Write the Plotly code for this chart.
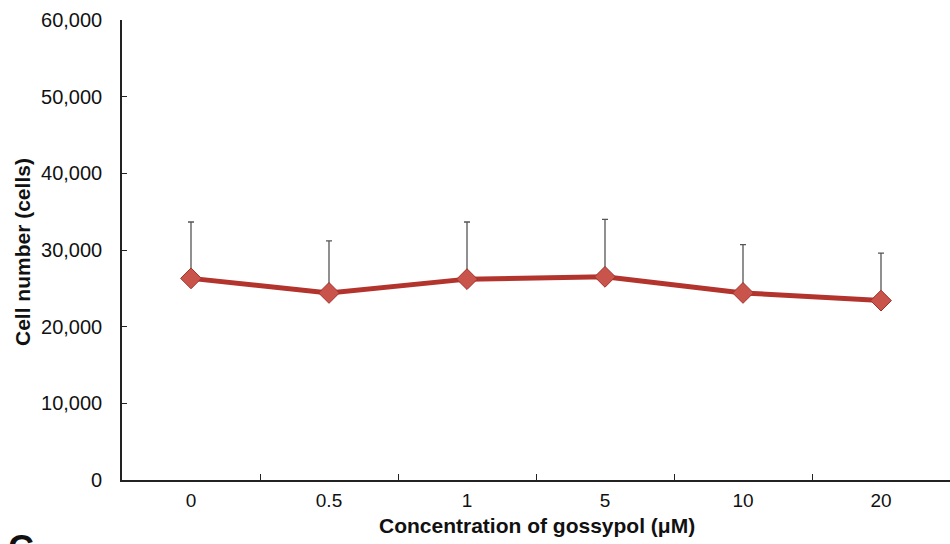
import plotly.graph_objects as go

categories = ["0", "0.5", "1", "5", "10", "20"]
cell_means = [26300, 24400, 26200, 26500, 24400, 23400]
cell_err_upper = [33650, 31200, 33650, 34000, 30700, 29600]
y_ticks = [0, 10000, 20000, 30000, 40000, 50000, 60000]

err_plus = [u - m for u, m in zip(cell_err_upper, cell_means)]

fig = go.Figure()
fig.add_trace(go.Scatter(
    x=categories, y=cell_means, mode="lines+markers",
    line=dict(color="#B2342C", width=5),
    marker=dict(symbol="diamond", size=16, color="#C9544C",
                line=dict(color="#A2302A", width=1)),
    error_y=dict(type="data", array=err_plus, arrayminus=[0]*6,
                 symmetric=False, color="#555555", thickness=1.3, width=3),
    showlegend=False,
))

fig.update_layout(
    width=950, height=544,
    margin=dict(l=122, r=0, t=20, b=64),
    paper_bgcolor="white", plot_bgcolor="white",
    font=dict(family="Liberation Sans, Arial", size=20, color="#111111"),
)
fig.update_xaxes(
    type="category", range=[-0.5, 5.5],
    showline=True, linecolor="#222222", linewidth=1.6,
    ticks="inside", ticklen=6, tickcolor="#222222", tickson="boundaries",
    showgrid=False, zeroline=False,
    tickfont=dict(size=19), ticklabelstandoff=2,
)
fig.update_yaxes(
    range=[0, 60000], tickvals=y_ticks,
    ticktext=[f"{v:,}" for v in y_ticks],
    showline=True, linecolor="#222222", linewidth=1.6,
    ticks="inside", ticklen=5, tickcolor="#222222",
    showgrid=False, zeroline=False,
    tickfont=dict(size=20), ticklabelstandoff=14,
)
fig.add_annotation(
    text="<b>Cell number (cells)</b>", xref="paper", yref="paper",
    x=-122/828 + 22/828, y=(480-252)/460, textangle=-90, showarrow=False,
    xanchor="center", yanchor="middle", font=dict(size=21),
)
fig.add_annotation(
    text="<b>Concentration of gossypol (μM)</b>", xref="paper", yref="paper",
    x=(537-122)/828, y=-45/460, showarrow=False,
    xanchor="center", yanchor="middle", font=dict(size=21),
)
fig.add_annotation(
    text="<b>C</b>", xref="paper", yref="paper",
    x=-122/828 + 6/828, y=-46/460, showarrow=False,
    xanchor="left", yanchor="top", font=dict(size=36),
)

fig.write_html("out.html")
